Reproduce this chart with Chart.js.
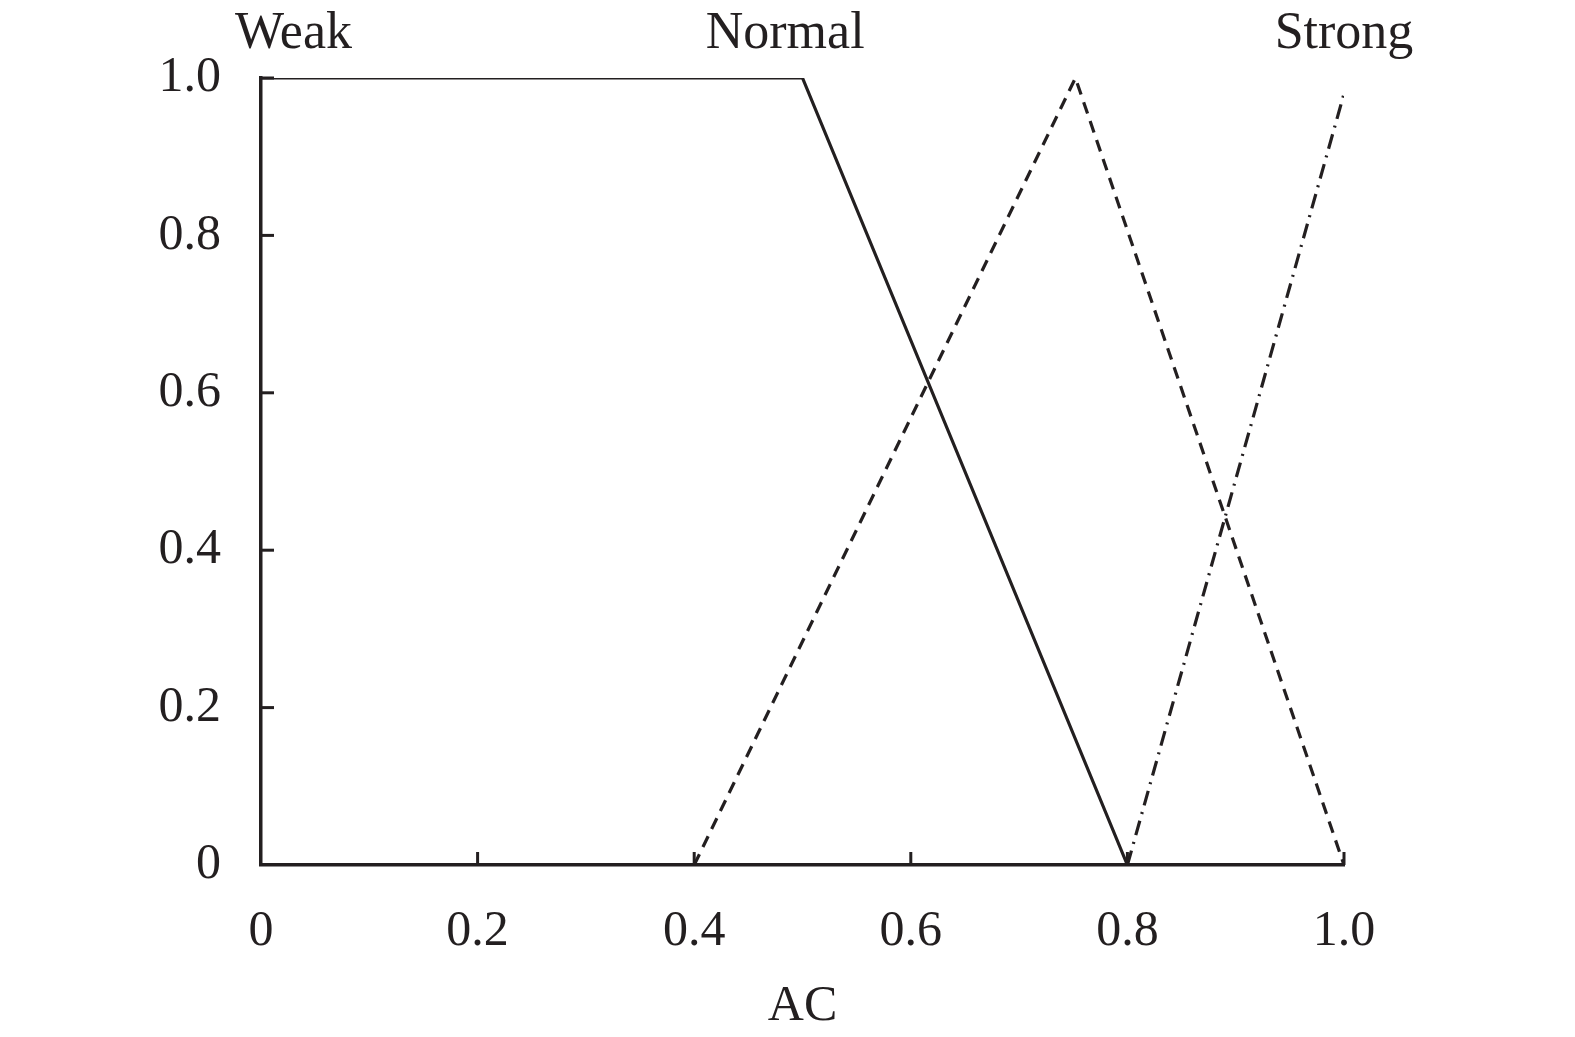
<!DOCTYPE html>
<html>
<head>
<meta charset="utf-8">
<title>AC membership functions</title>
<script src="https://cdn.jsdelivr.net/npm/chart.js@4.4.1/dist/chart.umd.min.js"></script>
<style>
  html, body { margin: 0; padding: 0; background: #fff; }
  #wrap { width: 1575px; height: 1037px; position: relative; }
</style>
</head>
<body>
<div id="wrap"><canvas id="chart"></canvas></div>
<script>
// --- Data ---
const xTicks = [0, 0.2, 0.4, 0.6, 0.8, 1.0];
const yTicks = [0, 0.2, 0.4, 0.6, 0.8, 1.0];

// membership functions (x, y breakpoints)
const weakX = [0, 0.5, 0.8];
const weakY = [1, 1, 0];
const normalX = [0.4, 0.752, 1.0];
const normalY = [0, 1, 0];
const strongX = [0.8, 1.0];
const strongY = [0, 0.98];

// set labels above the plot (data units)
const setNames = ['Weak', 'Normal', 'Strong'];
const setLabelX = [0.03, 0.484, 1.0];
const setLabelY = [1.055, 1.055, 1.055];

const FONT = "'Liberation Serif', 'Times New Roman', serif";
const INK = '#231f20';

function points(xs, ys) {
  return xs.map((x, i) => ({ x: x, y: ys[i] }));
}

function fmt(v) {
  return v === 0 ? '0' : v.toFixed(1);
}

// --- inward tick marks + set labels ---
const decorations = {
  id: 'decorations',
  afterDraw(chart) {
    const ctx = chart.ctx;
    const xs = chart.scales.x;
    const ys = chart.scales.y;
    const area = chart.chartArea;

    ctx.save();
    ctx.strokeStyle = INK;
    ctx.lineWidth = 3;
    xTicks.forEach(v => {
      if (v === 0) return;
      const px = xs.getPixelForValue(v);
      ctx.beginPath();
      ctx.moveTo(px, area.bottom);
      ctx.lineTo(px, area.bottom - 13);
      ctx.stroke();
    });
    yTicks.forEach(v => {
      if (v === 0) return;
      const py = ys.getPixelForValue(v);
      ctx.beginPath();
      ctx.moveTo(area.left, py);
      ctx.lineTo(area.left + 13, py);
      ctx.stroke();
    });

    ctx.fillStyle = INK;
    ctx.font = '52px ' + FONT;
    ctx.textAlign = 'center';
    ctx.textBaseline = 'middle';
    setNames.forEach((name, i) => {
      ctx.fillText(name, xs.getPixelForValue(setLabelX[i]), ys.getPixelForValue(setLabelY[i]));
    });
    ctx.restore();
  }
};

const lineBase = {
  showLine: true,
  borderColor: INK,
  borderWidth: 3.2,
  pointRadius: 0,
  fill: false,
  tension: 0
};

new Chart(document.getElementById('chart'), {
  type: 'scatter',
  data: {
    datasets: [
      Object.assign({ label: 'Weak', data: points(weakX, weakY) }, lineBase),
      Object.assign({ label: 'Normal', data: points(normalX, normalY), borderDash: [12, 8] }, lineBase),
      Object.assign({ label: 'Strong', data: points(strongX, strongY), borderDash: [15, 7, 2, 7] }, lineBase)
    ]
  },
  options: {
    responsive: true,
    maintainAspectRatio: false,
    animation: false,
    layout: { padding: { top: 78, right: 231, left: 0, bottom: 0 } },
    plugins: {
      legend: { display: false },
      tooltip: { enabled: false }
    },
    scales: {
      x: {
        type: 'linear',
        min: 0,
        max: 1,
        afterBuildTicks: s => { s.ticks = xTicks.map(v => ({ value: v })); },
        afterFit: s => { s.height = 172; },
        grid: { display: true, drawOnChartArea: false, drawTicks: false },
        border: { display: true, color: INK, width: 3.5 },
        ticks: {
          color: INK,
          font: { family: FONT, size: 50 },
          padding: 37,
          maxRotation: 0,
          callback: v => fmt(v)
        },
        title: {
          display: true,
          text: 'AC',
          color: INK,
          font: { family: FONT, size: 50 },
          padding: { top: 0, bottom: 0 }
        }
      },
      y: {
        type: 'linear',
        min: 0,
        max: 1,
        afterBuildTicks: s => { s.ticks = yTicks.map(v => ({ value: v })); },
        afterFit: s => { s.width = 261; },
        grid: { display: true, drawOnChartArea: false, drawTicks: false },
        border: { display: true, color: INK, width: 3.5 },
        ticks: {
          color: INK,
          font: { family: FONT, size: 50 },
          padding: 40,
          callback: v => fmt(v)
        }
      }
    }
  },
  plugins: [decorations]
});
</script>
</body>
</html>
